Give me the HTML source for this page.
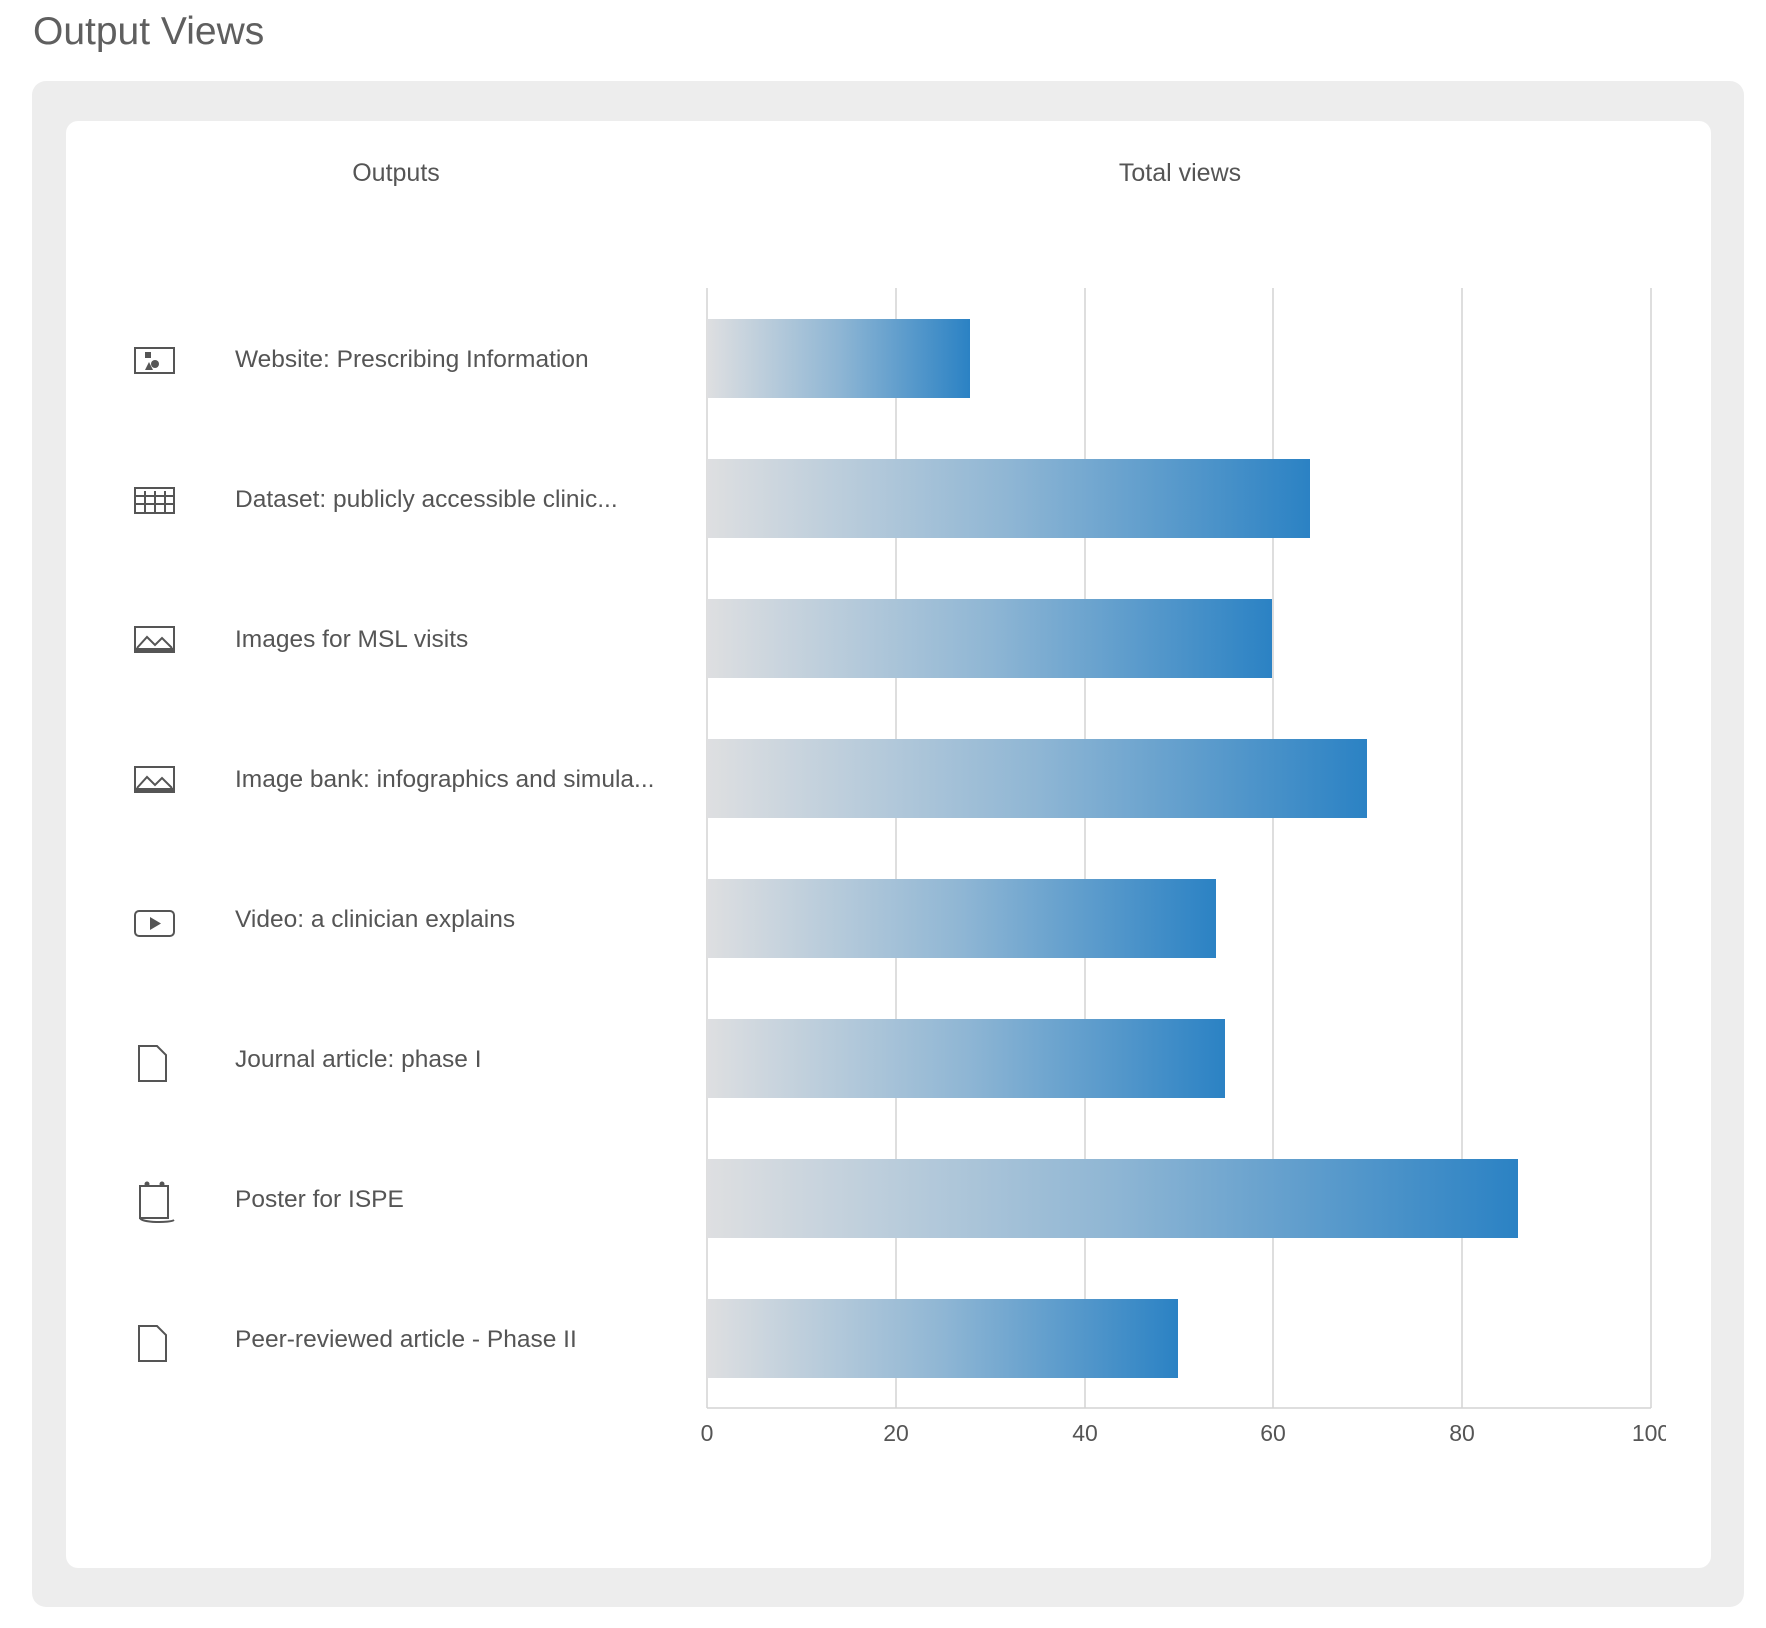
<!DOCTYPE html>
<html><head><meta charset="utf-8"><style>
html,body{margin:0;padding:0;background:#fff;}
svg{display:block;font-family:"Liberation Sans",Arial,sans-serif;}
</style></head><body>
<svg width="1766" height="1628" viewBox="0 0 1766 1628" xmlns="http://www.w3.org/2000/svg">
<defs>
<linearGradient id="g" x1="0" x2="1" y1="0" y2="0">
<stop offset="0" stop-color="#dedfe1"/><stop offset="0.5" stop-color="#8fb6d4"/><stop offset="1" stop-color="#2b82c4"/>
</linearGradient>
</defs>
<text x="33" y="44" font-size="39" fill="#5f5f5f">Output Views</text>
<rect x="32" y="81" width="1712" height="1526" rx="14" fill="#ededed"/>
<rect x="66" y="121" width="1645" height="1447" rx="12" fill="#fff"/>
<text x="396" y="181" font-size="25" fill="#555" text-anchor="middle">Outputs</text>
<text x="1180" y="181" font-size="25" fill="#555" text-anchor="middle">Total views</text>
<g stroke="#d4d4d4" stroke-width="1.5">
<line x1="707" y1="288" x2="707" y2="1408"/>
<line x1="896" y1="288" x2="896" y2="1408"/>
<line x1="1085" y1="288" x2="1085" y2="1408"/>
<line x1="1273" y1="288" x2="1273" y2="1408"/>
<line x1="1462" y1="288" x2="1462" y2="1408"/>
<line x1="1651" y1="288" x2="1651" y2="1408"/>
<line x1="707" y1="1408" x2="1651" y2="1408"/>
</g>
<g fill="url(#g)">
<rect x="707" y="319" width="263" height="79"/>
<rect x="707" y="459" width="603" height="79"/>
<rect x="707" y="599" width="565" height="79"/>
<rect x="707" y="739" width="660" height="79"/>
<rect x="707" y="879" width="509" height="79"/>
<rect x="707" y="1019" width="518" height="79"/>
<rect x="707" y="1159" width="811" height="79"/>
<rect x="707" y="1299" width="471" height="79"/>
</g>
<g font-size="23" fill="#555" text-anchor="middle">
<text x="707" y="1441">0</text><text x="896" y="1441">20</text><text x="1085" y="1441">40</text>
<text x="1273" y="1441">60</text><text x="1462" y="1441">80</text><text x="1651" y="1441">100</text>
</g>
<rect x="1666" y="1415" width="30" height="35" fill="#fff"/>
<g font-size="24.5" fill="#555">
<text x="235" y="367">Website: Prescribing Information</text>
<text x="235" y="507">Dataset: publicly accessible clinic...</text>
<text x="235" y="647">Images for MSL visits</text>
<text x="235" y="787">Image bank: infographics and simula...</text>
<text x="235" y="927">Video: a clinician explains</text>
<text x="235" y="1067">Journal article: phase I</text>
<text x="235" y="1207">Poster for ISPE</text>
<text x="235" y="1347">Peer-reviewed article - Phase II</text>
</g>
<g stroke="#555" stroke-width="2" fill="none">
<rect x="135" y="348" width="39" height="25"/>
<rect x="135" y="488" width="39" height="25"/>
<line x1="135" y1="496" x2="174" y2="496"/><line x1="135" y1="504" x2="174" y2="504"/>
<line x1="145" y1="491" x2="145" y2="513"/><line x1="155" y1="491" x2="155" y2="513"/><line x1="165" y1="491" x2="165" y2="513"/>
<rect x="135" y="627" width="39" height="25"/>
<polyline points="137,648 147,637 155,645 162,638 172,648"/>
<rect x="135" y="767" width="39" height="25"/>
<polyline points="137,788 147,777 155,785 162,778 172,788"/>
<rect x="135" y="911" width="39" height="25" rx="4"/>
<path d="M139 1046 h18 l9 9 v26 h-27 z"/>
<path d="M140 1186 h28 v32 h-28 z M140 1218 c2 5 30 5 34 2"/>
<path d="M139 1326 h18 l9 9 v26 h-27 z"/>
</g>
<g fill="#555">
<rect x="145" y="352" width="6" height="6"/><circle cx="155" cy="364" r="4"/><polygon points="145,370 149,362 153,370"/>
<rect x="135" y="648" width="39" height="4"/><rect x="135" y="788" width="39" height="4"/>
<polygon points="150,917 150,930 161,923.5"/>
<circle cx="147" cy="1184" r="2.5"/><circle cx="162" cy="1184" r="2.5"/>
</g>
</svg>
</body></html>
